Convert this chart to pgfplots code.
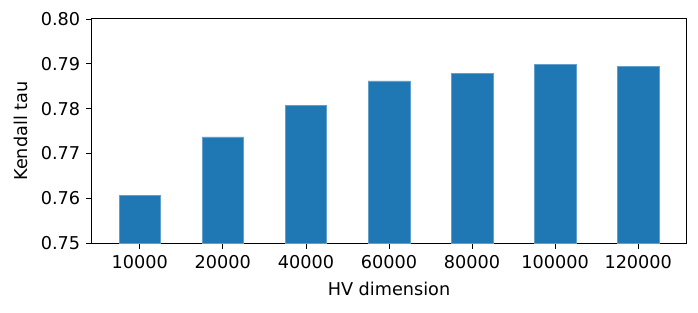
\documentclass[border=0pt]{standalone}
\usepackage{fontspec}
\setmainfont{DejaVu Sans}
\usepackage{pgfplots}
\pgfplotsset{compat=1.18}
\definecolor{mplblue}{HTML}{1F77B4}
\begin{document}
\begin{tikzpicture}
\begin{axis}[
  scale only axis,
  width=356.4pt, height=134.4pt,
  xmin=-0.575, xmax=6.575,
  ymin=0.75, ymax=0.80,
  ytick={0.75,0.76,0.77,0.78,0.79,0.80},
  yticklabel style={/pgf/number format/fixed,/pgf/number format/fixed zerofill,/pgf/number format/precision=2},
  xtick={0,1,2,3,4,5,6},
  xticklabels={10000,20000,40000,60000,80000,100000,120000},
  /pgf/number format/assume math mode=true,
  tick align=outside,
  xtick pos=bottom, ytick pos=left,
  major tick length=3.6pt,
  tick style={black, line width=0.5pt},
  axis line style={line width=0.6pt},
  xlabel={HV dimension},
  ylabel={Kendall tau},
  ticklabel style={font=\fontsize{10.6}{12}\selectfont},
  label style={font=\fontsize{10.6}{12}\selectfont},
  xlabel style={at={(axis description cs:0.5,-0.2054)}, anchor=center},
  ylabel style={at={(axis description cs:-0.1195,0.5)}, anchor=center},
  enlargelimits=false,
]
\addplot[ybar, bar width=0.5, fill=mplblue, draw=mplblue!70!white, line width=0.3pt, bar shift=0pt] coordinates {
  (0,0.7607) (1,0.7737) (2,0.7807) (3,0.7862) (4,0.7878) (5,0.7898) (6,0.7895)
};
\end{axis}
\path ([xshift=-55.2pt,yshift=-41.4pt]current axis.south west) rectangle ([xshift=7.2pt,yshift=11.4pt]current axis.north east);
\end{tikzpicture}
\end{document}
